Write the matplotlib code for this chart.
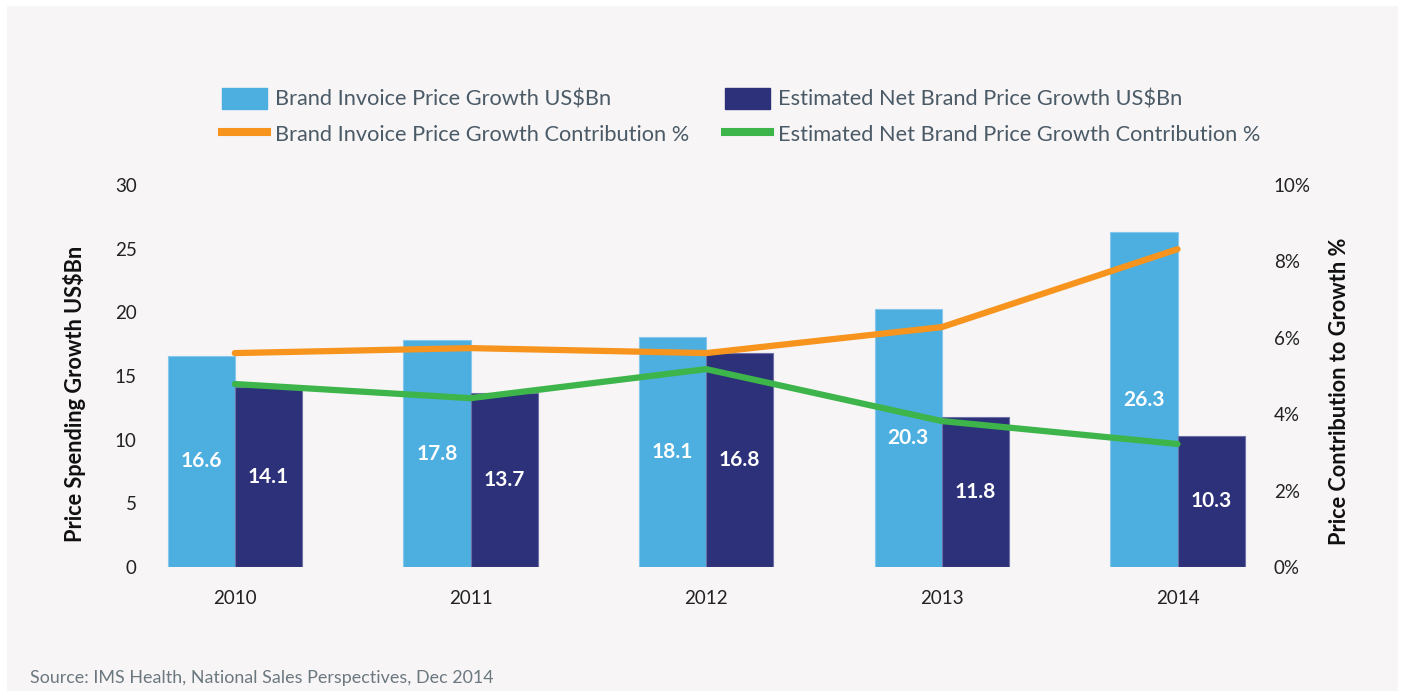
import matplotlib
matplotlib.use("Agg")

import matplotlib.pyplot as plt
from matplotlib.patches import Rectangle, Patch
from matplotlib.lines import Line2D
import matplotlib.ticker as mticker
import numpy as np

# ── Data ──
years = ["2010", "2011", "2012", "2013", "2014"]
invoice_growth = [16.6, 17.8, 18.1, 20.3, 26.3]       # US$Bn
net_growth = [14.1, 13.7, 16.8, 11.8, 10.3]           # US$Bn
invoice_contrib = [5.6, 5.73, 5.6, 6.28, 8.32]        # %
net_contrib = [4.79, 4.42, 5.18, 3.82, 3.22]          # %

BLUE = "#4daee0"
NAVY = "#2c3179"
ORANGE = "#f7941d"
GREEN = "#3db54a"
BG = "#f7f5f6"

plt.rcParams["font.family"] = ["Lato", "DejaVu Sans"]

fig = plt.figure(figsize=(14.03, 6.91), dpi=100)
fig.patch.set_facecolor("white")
fig.patches.append(Rectangle((7 / 1403, 0), 1391 / 1403, 685 / 691,
                             transform=fig.transFigure, facecolor=BG,
                             edgecolor="none", zorder=-10))

# axes from x=150..1260 px, y=185..567 px
ax = fig.add_axes([150 / 1403, (691 - 567) / 691, 1110 / 1403, 382 / 691])
ax.set_facecolor("none")
ax2 = ax.twinx()

x = np.arange(len(years))
w = 0.285

b1 = ax.bar(x - w / 2, invoice_growth, w, color=BLUE, edgecolor="#86c8ec",
            linewidth=0.8, zorder=2)
b2 = ax.bar(x + w / 2, net_growth, w, color=NAVY, edgecolor="#6c70a6",
            linewidth=0.8, zorder=2)

for rect, v in zip(list(b1) + list(b2), invoice_growth + net_growth):
    ax.text(rect.get_x() + rect.get_width() / 2, v / 2, f"{v:.1f}",
            ha="center", va="center", color="white", fontsize=15,
            fontweight="bold", zorder=3)

ax2.plot(x, invoice_contrib, color=ORANGE, linewidth=4.5,
         solid_capstyle="round", solid_joinstyle="round", zorder=4)
ax2.plot(x, net_contrib, color=GREEN, linewidth=4.5,
         solid_capstyle="round", solid_joinstyle="round", zorder=4)

ax.set_xlim(-0.36, 4.35)
ax.set_ylim(0, 30)
ax2.set_ylim(0, 10)
ax.set_yticks(range(0, 31, 5))
ax2.set_yticks(range(0, 11, 2))
ax2.yaxis.set_major_formatter(mticker.FuncFormatter(lambda v, _: f"{v:.0f}%"))
ax.set_xticks(x)
ax.set_xticklabels(years)

for a in (ax, ax2):
    for s in a.spines.values():
        s.set_visible(False)
    a.tick_params(length=0, labelsize=13.5, colors="#222222")
ax.tick_params(axis="y", pad=9.5)
ax.tick_params(axis="x", pad=16.5)
ax2.tick_params(axis="y", pad=10)

ax.set_ylabel("Price Spending Growth US$Bn", fontsize=15.7, fontweight="bold",
              color="#111111")
ax2.set_ylabel("Price Contribution to Growth %", fontsize=15.7, fontweight="bold",
               color="#111111", rotation=90)
ax.yaxis.set_label_coords((86 - 150) / 1110, (567 - 394) / 382)
ax2.yaxis.set_label_coords((1329 - 150) / 1110, (567 - 391) / 382)
ax2.set_zorder(ax.get_zorder() + 1)
ax2.patch.set_visible(False)

handles = [
    Patch(color=BLUE, label="Brand Invoice Price Growth US$Bn"),
    Line2D([], [], color=ORANGE, linewidth=5.8, label="Brand Invoice Price Growth Contribution %"),
    Patch(color=NAVY, label="Estimated Net Brand Price Growth US$Bn"),
    Line2D([], [], color=GREEN, linewidth=5.8, label="Estimated Net Brand Price Growth Contribution %"),
]
leg = fig.legend(handles=handles, ncol=2, loc="center left",
                 bbox_to_anchor=(211 / 1403, 1 - 116.5 / 691), frameon=False,
                 borderpad=0, fontsize=15.7, labelcolor="#4a5a66",
                 handlelength=2.06, handleheight=1.05, handletextpad=0.37,
                 columnspacing=1.65, labelspacing=0.6)

fig.text(30 / 1403, 1 - 678 / 691, "Source: IMS Health, National Sales Perspectives, Dec 2014",
         fontsize=12.9, color="#6b7880", va="center", ha="left")

fig.savefig("out.png", dpi=100, facecolor=fig.get_facecolor())
